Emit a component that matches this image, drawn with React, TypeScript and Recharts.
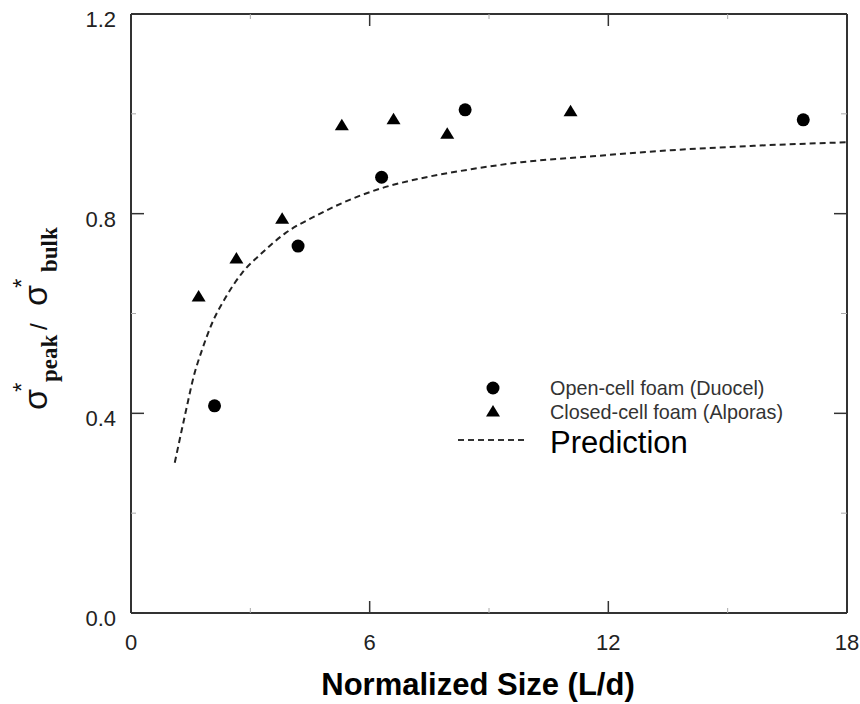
import React from "react";
import { ComposedChart, XAxis, YAxis, Scatter, Line, Legend } from "recharts";

// ---- data ----
const openCellX = [2.1, 4.2, 6.3, 8.4, 16.9];
const openCellY = [0.415, 0.735, 0.873, 1.008, 0.988];

const closedCellX = [1.7, 2.65, 3.8, 5.3, 6.6, 7.95, 11.05];
const closedCellY = [0.635, 0.711, 0.791, 0.978, 0.99, 0.961, 1.006];

const predictionX = [1.1, 1.37, 1.58, 1.79, 2.04, 2.37, 2.79, 3.29, 3.88, 4.63, 5.3, 6.3, 7.3, 8.55, 9.81, 11.6, 13.57, 15.66, 18];
const predictionY = [0.301, 0.401, 0.475, 0.528, 0.581, 0.631, 0.681, 0.721, 0.761, 0.795, 0.821, 0.851, 0.871, 0.889, 0.903, 0.915, 0.927, 0.936, 0.943];

const xTicks = [0, 3, 6, 9, 12, 15, 18];
const xMajor = [0, 6, 12, 18];
const yTicks = [0, 0.2, 0.4, 0.6, 0.8, 1.0, 1.2];
const yMajor = [0, 0.4, 0.8, 1.2];

const seriesNames = ["Open-cell foam (Duocel)", "Closed-cell foam (Alporas)", "Prediction"];
const xLabel = "Normalized Size (L/d)";

const zip = (xs: number[], ys: number[]) => xs.map((x, i) => ({ x, y: ys[i] }));
const openCell = zip(openCellX, openCellY);
const closedCell = zip(closedCellX, closedCellY);
const prediction = zip(predictionX, predictionY);

const SANS = "'Liberation Sans', Arial, sans-serif";
const SERIF = "'Liberation Serif', 'Times New Roman', serif";
const AXIS = "#333";
const MINOR = "#aaa";

const isMajor = (v: number, list: number[]) => list.some((m) => Math.abs(m - v) < 1e-6);

const BottomTick = (props: any) => {
  const { x, y, payload } = props;
  const v = payload.value;
  const major = isMajor(v, xMajor);
  return (
    <g>
      <line x1={x} x2={x} y1={y} y2={y - (major ? 12 : 5)} stroke={major ? AXIS : MINOR} strokeWidth={major ? 1.5 : 1} />
      {major && (
        <text x={x} y={y + 37} textAnchor="middle" fontFamily={SANS} fontSize={22} fill="#222">
          {String(v)}
        </text>
      )}
    </g>
  );
};

const TopTick = (props: any) => {
  const { x, y, payload } = props;
  const major = isMajor(payload.value, xMajor);
  return <line x1={x} x2={x} y1={y} y2={y + (major ? 12 : 5)} stroke={major ? AXIS : MINOR} strokeWidth={major ? 1.5 : 1} />;
};

const LeftTick = (props: any) => {
  const { x, y, payload } = props;
  const v = payload.value;
  const major = isMajor(v, yMajor);
  return (
    <g>
      <line x1={x} x2={x + (major ? 13 : 5)} y1={y} y2={y} stroke={major ? AXIS : MINOR} strokeWidth={major ? 1.5 : 1} />
      {major && (
        <text x={x - 15} y={y + 13} textAnchor="end" fontFamily={SANS} fontSize={22} fill="#222">
          {v.toFixed(1)}
        </text>
      )}
    </g>
  );
};

const RightTick = (props: any) => {
  const { x, y, payload } = props;
  const major = isMajor(payload.value, yMajor);
  return <line x1={x} x2={x - (major ? 13 : 6)} y1={y} y2={y} stroke={major ? AXIS : MINOR} strokeWidth={major ? 1.5 : 1} />;
};

const XTitle = (props: any) => {
  const vb = props.viewBox || { x: 131, width: 716 };
  return (
    <text x={vb.x + vb.width / 2 - 11} y={695} textAnchor="middle" fontFamily={SANS} fontWeight="bold" fontSize={31} fill="#000">
      {xLabel}
    </text>
  );
};

const YTitle = () => (
  <g transform="translate(47,410) rotate(-90)">
    <text fill="#111">
      <tspan x={0} y={0} fontFamily={SANS} fontSize={34}>σ</tspan>
      <tspan x={18} y={-17} fontFamily={SANS} fontSize={24}>*</tspan>
      <tspan x={28} y={10} fontFamily={SERIF} fontWeight="bold" fontSize={23}>peak</tspan>
      <tspan x={80} y={0} fontFamily={SANS} fontSize={24}>/</tspan>
      <tspan x={104} y={0} fontFamily={SANS} fontSize={34}>σ</tspan>
      <tspan x={122} y={-17} fontFamily={SANS} fontSize={24}>*</tspan>
      <tspan x={138} y={10} fontFamily={SERIF} fontWeight="bold" fontSize={23}>bulk</tspan>
    </text>
  </g>
);

const CircleShape = (p: any) => <circle cx={p.cx} cy={p.cy} r={6.5} fill="#000" />;
const TriangleShape = (p: any) => (
  <polygon points={`${p.cx},${p.cy - 6} ${p.cx - 7},${p.cy + 5.5} ${p.cx + 7},${p.cy + 5.5}`} fill="#000" />
);

const LegendBox = () => (
  <svg width={320} height={100} style={{ overflow: "visible" }}>
    <circle cx={43} cy={18} r={6.5} fill="#000" />
    <text x={100} y={25} fontFamily={SANS} fontSize={19.8} fill="#333">{seriesNames[0]}</text>
    <polygon points="43,35 36,46.5 50,46.5" fill="#000" />
    <text x={100} y={49} fontFamily={SANS} fontSize={19.8} fill="#333">{seriesNames[1]}</text>
    <line x1={8} x2={77} y1={70} y2={70} stroke="#333" strokeWidth={2} strokeDasharray="6 4" />
    <text x={100} y={83} fontFamily={SANS} fontSize={31} fill="#000">{seriesNames[2]}</text>
  </svg>
);

export default function App() {
  return (
    <div style={{ position: "absolute", left: 0, top: 0, width: 860, height: 704, background: "#fff" }}>
      <ComposedChart width={860} height={704} margin={{ top: 0, right: 0, bottom: 0, left: 0 }}>
        <XAxis
          xAxisId="b"
          dataKey="x"
          type="number"
          domain={[0, 18]}
          ticks={xTicks}
          interval={0}
          allowDataOverflow
          orientation="bottom"
          height={91}
          tickSize={0}
          tickMargin={0}
          tickLine={false}
          axisLine={{ stroke: AXIS, strokeWidth: 2 }}
          tick={<BottomTick />}
          label={<XTitle />}
        />
        <XAxis
          xAxisId="t"
          dataKey="x"
          type="number"
          domain={[0, 18]}
          ticks={xTicks}
          interval={0}
          allowDataOverflow
          orientation="top"
          height={14}
          tickSize={0}
          tickMargin={0}
          tickLine={false}
          axisLine={{ stroke: AXIS, strokeWidth: 2 }}
          tick={<TopTick />}
        />
        <YAxis
          yAxisId="l"
          dataKey="y"
          type="number"
          domain={[0, 1.2]}
          ticks={yTicks}
          interval={0}
          allowDataOverflow
          orientation="left"
          width={131}
          tickSize={0}
          tickMargin={0}
          tickLine={false}
          axisLine={{ stroke: AXIS, strokeWidth: 2 }}
          tick={<LeftTick />}
          label={<YTitle />}
        />
        <YAxis
          yAxisId="r"
          dataKey="y"
          type="number"
          domain={[0, 1.2]}
          ticks={yTicks}
          interval={0}
          allowDataOverflow
          orientation="right"
          width={13}
          tickSize={0}
          tickMargin={0}
          tickLine={false}
          axisLine={{ stroke: AXIS, strokeWidth: 2 }}
          tick={<RightTick />}
        />
        <Line
          xAxisId="b"
          yAxisId="l"
          data={prediction}
          dataKey="y"
          type="monotone"
          stroke="#222"
          strokeWidth={2}
          strokeDasharray="6 4"
          dot={false}
          activeDot={false}
          isAnimationActive={false}
          name={seriesNames[2]}
        />
        <Scatter xAxisId="b" yAxisId="l" data={openCell} dataKey="y" shape={<CircleShape />} isAnimationActive={false} name={seriesNames[0]} />
        <Scatter xAxisId="b" yAxisId="l" data={closedCell} dataKey="y" shape={<TriangleShape />} isAnimationActive={false} name={seriesNames[1]} />
        <Legend
          layout="vertical"
          align="center"
          verticalAlign="middle"
          wrapperStyle={{ left: 450, top: 370, width: 320, height: 100 }}
          content={() => <LegendBox />}
        />
      </ComposedChart>
    </div>
  );
}
